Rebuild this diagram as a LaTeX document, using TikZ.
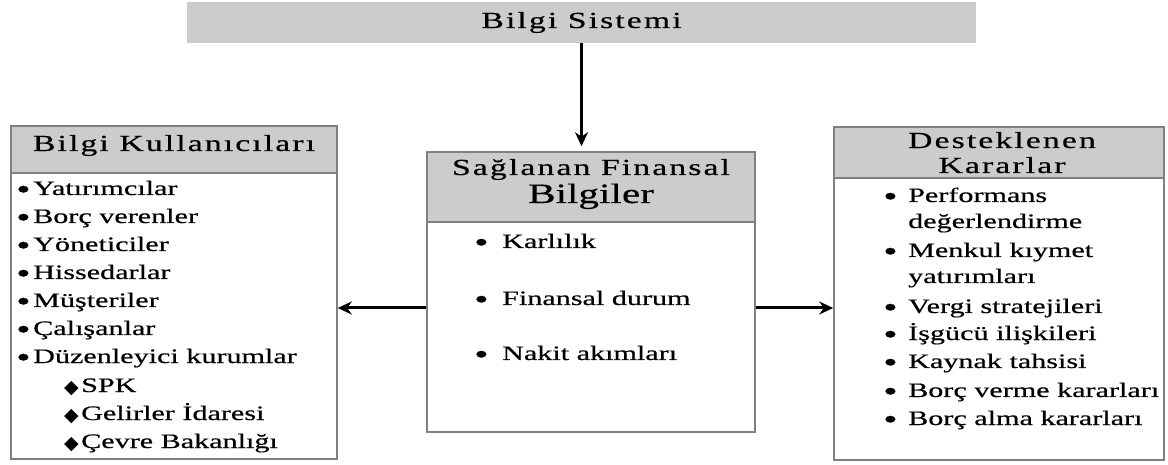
\documentclass[tikz,border=0pt]{standalone}
\usepackage{fontspec}
\setmainfont{Liberation Serif}[FakeStretch=1.47,FakeBold=0.5]
\newfontfamily\headfont{Liberation Serif}[FakeStretch=1.47,FakeBold=0.5,LetterSpace=9]
\newfontfamily\symfont{DejaVu Sans}
\usetikzlibrary{arrows.meta}

\newcommand{\bul}[2]{\makebox[#1][l]{\raisebox{-3.5pt}{\fontsize{28}{28}\selectfont •}}#2}
\newcommand{\dia}[1]{\makebox[17pt][l]{\raisebox{-1.5pt}{\symfont\fontsize{19}{19}\selectfont ◆}}#1}

\tikzset{
  panel/.style={draw=black!50, line width=1.6pt, fill=white, inner sep=0pt},
  headbox/.style={draw=black!50, line width=1.6pt, fill=gray!40, inner sep=0pt},
  head/.style={font=\headfont\fontsize{23}{27}\selectfont, anchor=base, inner sep=0pt},
  item/.style={font=\fontsize{20.5}{24}\selectfont, anchor=base west, inner sep=0pt},
  arr/.style={line width=3pt, -{Stealth[length=14pt,width=13pt]}},
}

\begin{document}
\begin{tikzpicture}[x=1pt,y=1pt]
  \useasboundingbox (0,0) rectangle (1168,464);

  % top bar
  \node[fill=gray!40, minimum width=789, minimum height=41, inner sep=0pt] (sys) at (581.5,441.5) {};
  \node[head] (systxt) at (581.5,436) {Bilgi Sistemi};

  % the three panels
  \node[panel, minimum width=326, minimum height=333] (users) at (174,171.5) {};
  \node[headbox, minimum width=326, minimum height=47, anchor=north] (usershd) at (users.north) {};
  \node[panel, minimum width=328, minimum height=280] (info) at (591,172) {};
  \node[headbox, minimum width=328, minimum height=70, anchor=north] (infohd) at (info.north) {};
  \node[panel, minimum width=330, minimum height=333] (dec) at (999,170.5) {};
  \node[headbox, minimum width=330, minimum height=51, anchor=north] (dechd) at (dec.north) {};

  % headings
  \node[head] (userstxt) at (174,313) {Bilgi Kullanıcıları};
  \node[head] (infotxt) at (591,289) {Sağlanan Finansal};
  \node[head, font=\fontsize{28}{30}\selectfont] (infotxtb) at (591,261) {Bilgiler};
  \node[head] (dectxt) at (1002,316) {Desteklenen};
  \node[head] (dectxtb) at (1002,291) {Kararlar};

  % left list
  \foreach \y/\txt [count=\i] in {269/Yatırımcılar,241/Borç verenler,213/Yöneticiler,185/Hissedarlar,
      157/Müşteriler,129/Çalışanlar,101/Düzenleyici kurumlar} {
    \node[item] (u\i) at (16,\y) {\bul{17pt}{\txt}};
  }
  \foreach \y/\txt [count=\i] in {72/SPK,44/Gelirler İdaresi,16/Çevre Bakanlığı} {
    \node[item] (s\i) at (64,\y) {\dia{\txt}};
  }

  % middle list
  \foreach \y/\txt [count=\i] in {216/Karlılık,159/Finansal durum,104/Nakit akımları} {
    \node[item] (f\i) at (474,\y) {\bul{28pt}{\txt}};
  }

  % right list
  \node[item] (d1) at (883,262) {\bul{25pt}{Performans}};
  \node[item] (d1b) at (908,236) {değerlendirme};
  \node[item] (d2) at (883,207) {\bul{25pt}{Menkul kıymet}};
  \node[item] (d2b) at (908,181) {yatırımları};
  \foreach \y/\txt [count=\i from 3] in {151/Vergi stratejileri,124/İşgücü ilişkileri,96/Kaynak tahsisi,
      67/Borç verme kararları,39/Borç alma kararları} {
    \node[item] (d\i) at (883,\y) {\bul{25pt}{\txt}};
  }

  % arrows
  \coordinate (lvl) at (0,156);
  \draw[arr, shorten >=5pt] (sys.south) -- (sys.south |- info.north);
  \draw[arr] (info.west |- lvl) -- (users.east |- lvl);
  \draw[arr] (info.east |- lvl) -- (dec.west |- lvl);
\end{tikzpicture}
\end{document}
